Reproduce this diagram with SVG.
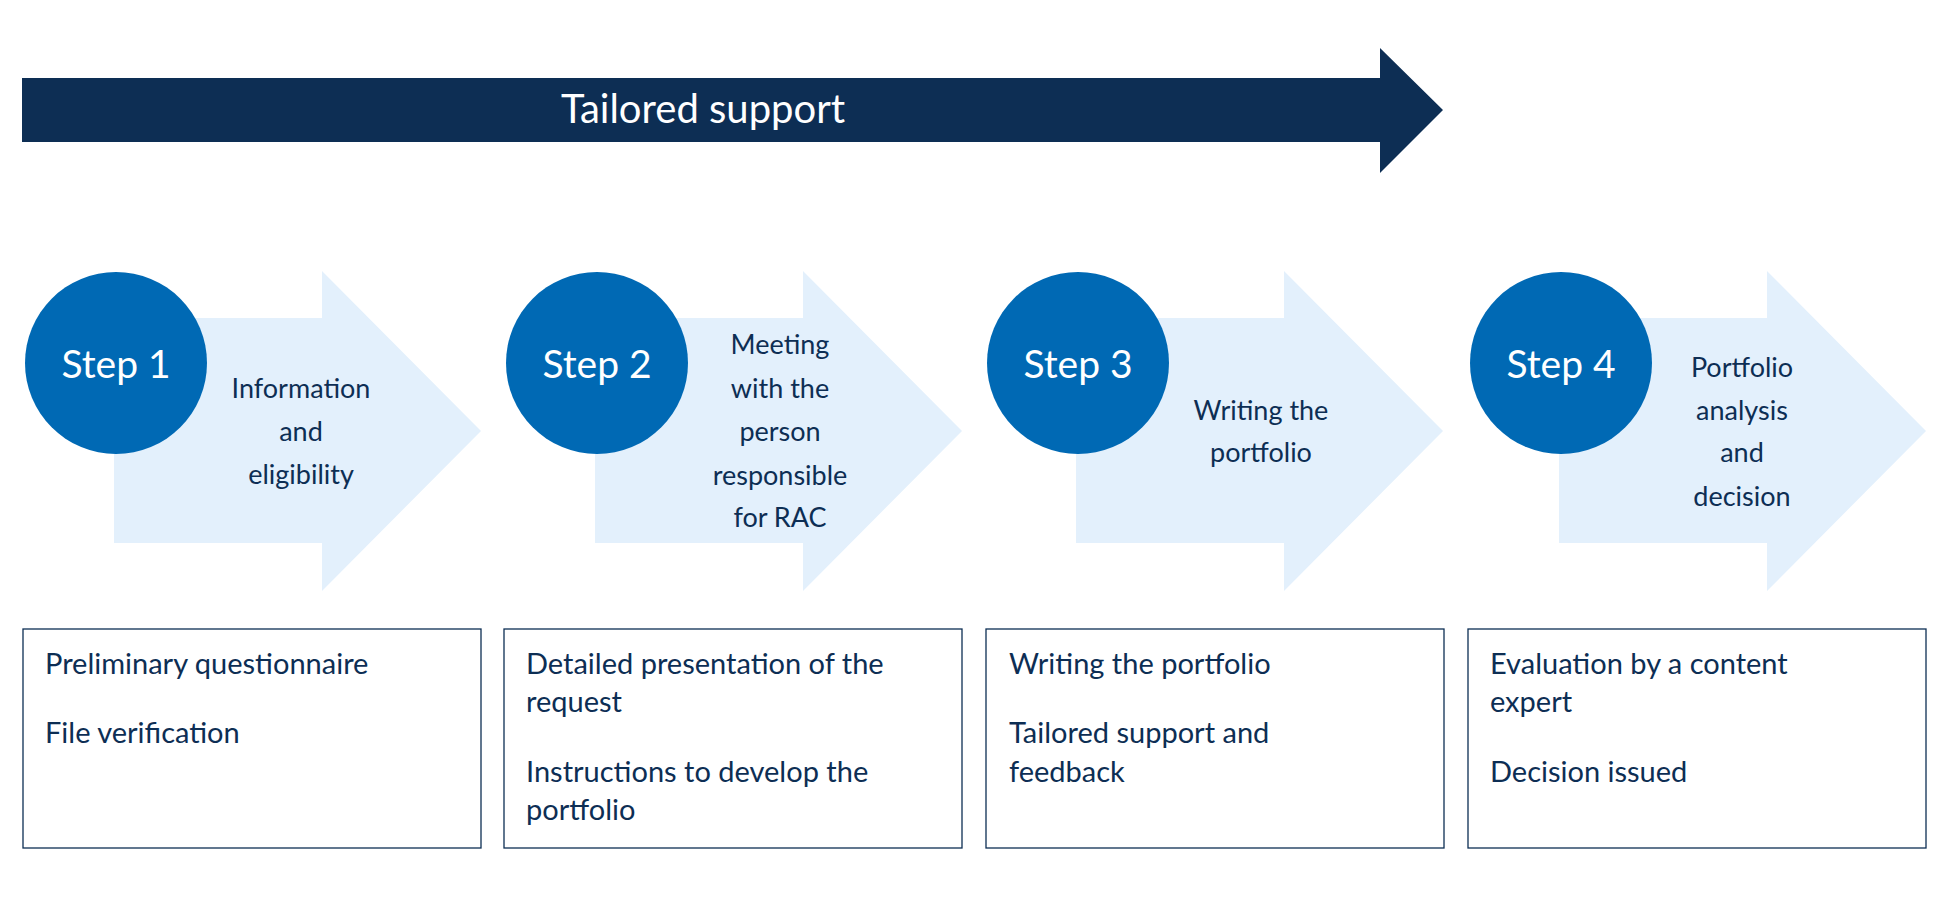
<svg xmlns="http://www.w3.org/2000/svg" width="1950" height="907" viewBox="0 0 1950 907">
<style>
text{font-family:Lato,"Noto Sans",sans-serif;fill:#0D2E54;dominant-baseline:central}
.c{fill:#0069B4}.a{fill:#E3F0FC}.b{fill:#fff;stroke:#0D2E54;stroke-width:1.3}
.st{fill:#fff;font-size:39px;text-anchor:middle}
.at{font-size:27px;text-anchor:middle}
.bt{font-size:29px}
</style>
<rect width="1950" height="907" fill="#fff"/>
<g id="top">
<polygon points="22,78 1380,78 1380,48 1443,110 1380,173 1380,142 22,142" fill="#0D2E54"/>
<text x="703" y="108" style="fill:#fff;font-size:40px;text-anchor:middle">Tailored support</text>
</g>
<g id="step1">
<polygon class="a" points="114,318 322,318 322,271 481,431 322,591 322,543 114,543"/>
<circle class="c" cx="116" cy="363" r="91"/>
<text class="st" x="116" y="363">Step 1</text>
<text class="at" x="301" y="387">Information</text><text class="at" x="301" y="430">and</text><text class="at" x="301" y="473">eligibility</text>
</g>
<g id="step2">
<polygon class="a" points="595,318 803,318 803,271 962,431 803,591 803,543 595,543"/>
<circle class="c" cx="597" cy="363" r="91"/>
<text class="st" x="597" y="363">Step 2</text>
<text class="at" x="780" y="343">Meeting</text><text class="at" x="780" y="387">with the</text><text class="at" x="780" y="430">person</text><text class="at" x="780" y="474">responsible</text><text class="at" x="780" y="516">for RAC</text>
</g>
<g id="step3">
<polygon class="a" points="1076,318 1284,318 1284,271 1443,431 1284,591 1284,543 1076,543"/>
<circle class="c" cx="1078" cy="363" r="91"/>
<text class="st" x="1078" y="363">Step 3</text>
<text class="at" x="1261" y="409">Writing the</text><text class="at" x="1261" y="451">portfolio</text>
</g>
<g id="step4">
<polygon class="a" points="1559,318 1767,318 1767,271 1926,431 1767,591 1767,543 1559,543"/>
<circle class="c" cx="1561" cy="363" r="91"/>
<text class="st" x="1561" y="363">Step 4</text>
<text class="at" x="1742" y="366">Portfolio</text><text class="at" x="1742" y="409">analysis</text><text class="at" x="1742" y="451">and</text><text class="at" x="1742" y="495">decision</text>
</g>
<g id="box1"><rect class="b" x="23" y="629" width="458" height="219"/>
<text class="bt" x="45" y="662">Preliminary questionnaire</text><text class="bt" x="45" y="731">File verification</text></g>
<g id="box2"><rect class="b" x="504" y="629" width="458" height="219"/>
<text class="bt" x="526" y="662">Detailed presentation of the</text><text class="bt" x="526" y="700">request</text><text class="bt" x="526" y="770">Instructions to develop the</text><text class="bt" x="526" y="808">portfolio</text></g>
<g id="box3"><rect class="b" x="986" y="629" width="458" height="219"/>
<text class="bt" x="1009" y="662">Writing the portfolio</text><text class="bt" x="1009" y="731">Tailored support and</text><text class="bt" x="1009" y="770">feedback</text></g>
<g id="box4"><rect class="b" x="1468" y="629" width="458" height="219"/>
<text class="bt" x="1490" y="662">Evaluation by a content</text><text class="bt" x="1490" y="700">expert</text><text class="bt" x="1490" y="770">Decision issued</text></g>
<g id="connectors"></g>
</svg>
